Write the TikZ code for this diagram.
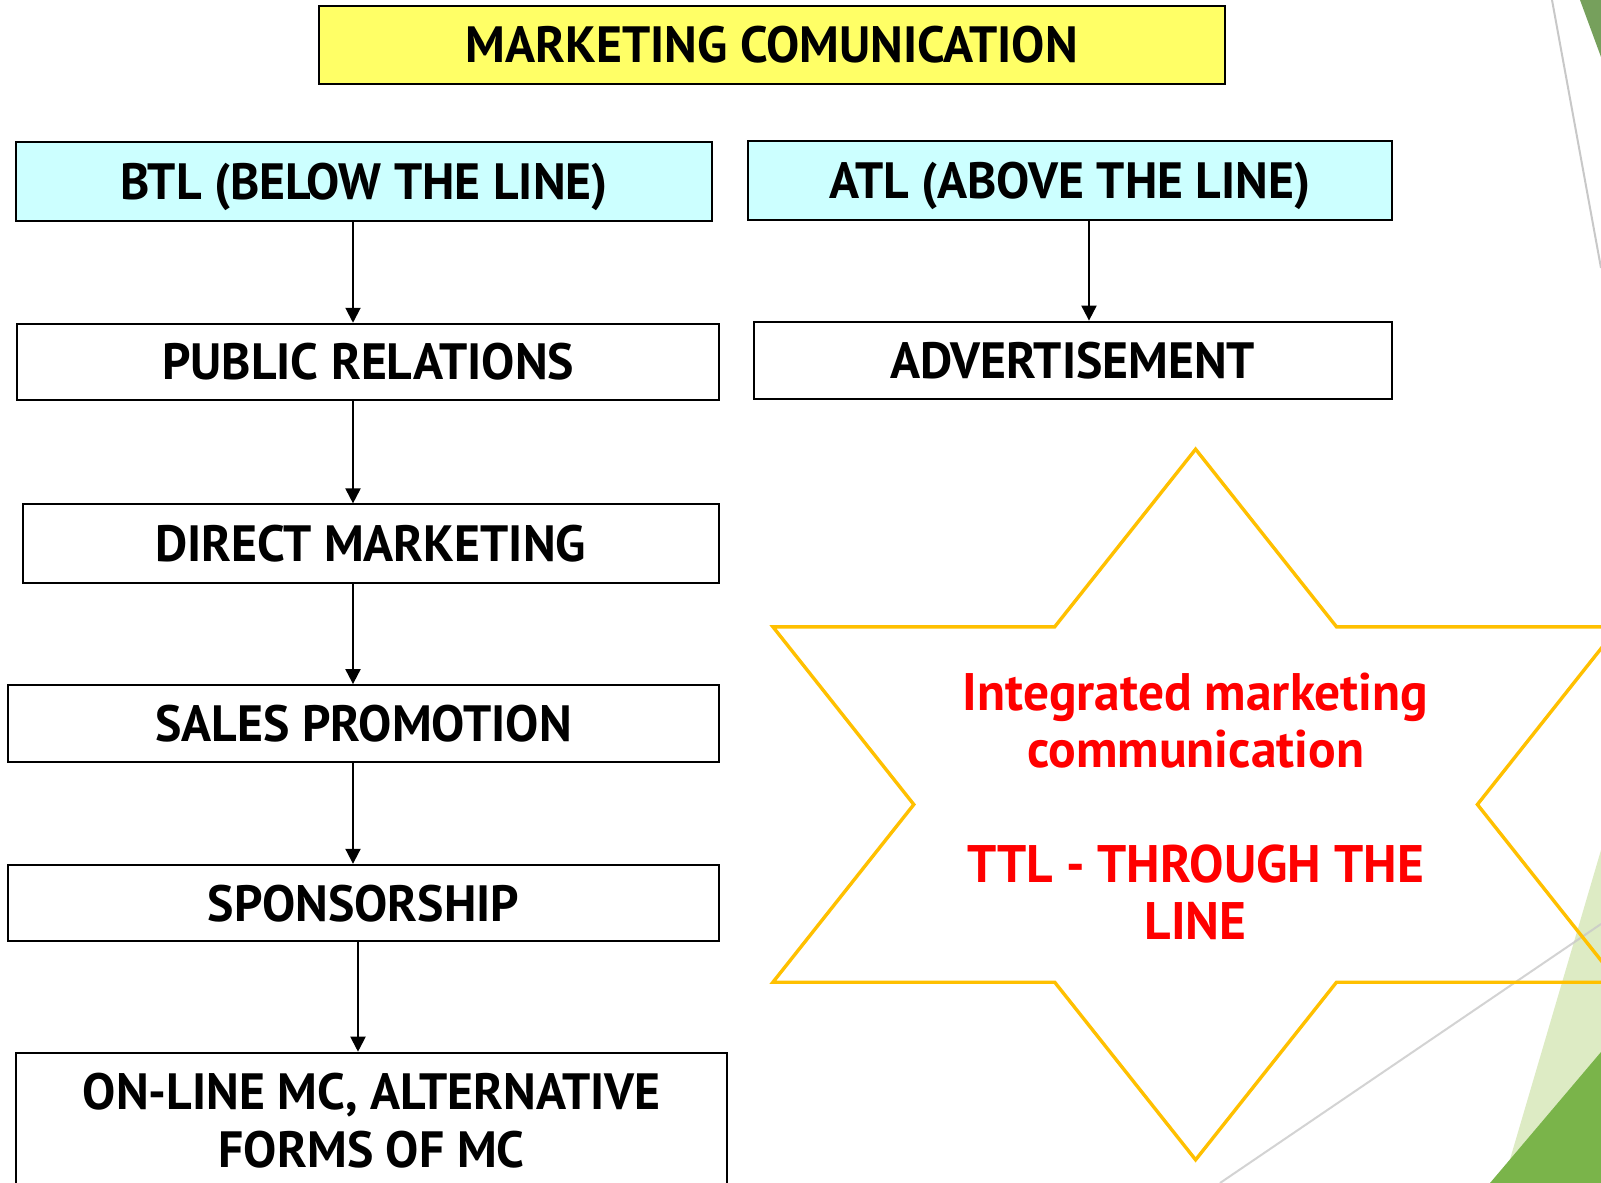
\documentclass[tikz,border=0pt]{standalone}
\usepackage{fontspec}
\setmainfont{PT Sans}[FakeStretch=0.975]
\usetikzlibrary{arrows.meta}

\definecolor{titlefill}{RGB}{255,255,102}
\definecolor{headfill}{RGB}{204,255,255}
\definecolor{stargold}{RGB}{255,192,0}
\definecolor{leafdark}{RGB}{122,180,74}
\definecolor{leaftop}{RGB}{118,160,92}
\definecolor{leaflight}{RGB}{221,235,196}
\definecolor{rulegray}{RGB}{200,200,200}

\begin{document}
\begin{tikzpicture}[x=0.5pt,y=-0.5pt,
  bx/.style n args={2}{draw=black, line width=1pt, inner sep=0pt,
    minimum width=#1*0.5pt, minimum height=#2*0.5pt,
    font=\fontsize{25.5pt}{29pt}\selectfont\bfseries, align=center},
  oneline/.style={text height=17.9pt, text depth=0pt},
  arr/.style={draw=black, line width=1pt, -{Triangle[width=7.5pt,length=7.5pt]}},
  redtxt/.style={text=red, align=center, inner sep=0pt,
    font=\fontsize{26.4pt}{28.5pt}\selectfont\bfseries}]

\path[use as bounding box, clip] (0,0) rectangle (1601,1183);

% slide decoration on the right edge
\fill[leaftop] (1580,0) -- (1601,0) -- (1601,57) -- cycle;
\draw[rulegray, line width=1pt] (1552,0) -- (1601,268);
\fill[leaflight] (1601,850) -- (1503,1183) -- (1601,1183) -- cycle;
\fill[leafdark] (1601,1052) -- (1601,1183) -- (1490,1183) -- cycle;
\draw[rulegray, line width=1pt, opacity=0.8] (1220,1183) -- (1601,924);

% header boxes
\node[bx={906.6}{77.6}, oneline, fill=titlefill] (title) at (771.9,44.9) {MARKETING COMUNICATION};
\node[bx={695.3}{78.6}, oneline, fill=headfill] (btl) at (364,181.2) {BTL (BELOW THE LINE)};
\node[bx={643.2}{78.6}, oneline, fill=headfill] (atl) at (1070,180.2) {ATL (ABOVE THE LINE)};

% BTL column
\node[bx={701.4}{76.5}, oneline] (pr) at (368.1,362) {PUBLIC RELATIONS};
\node[bx={696.3}{78.6}, oneline] (dm) at (370.7,543.7) {DIRECT MARKETING};
\node[bx={710.6}{76.6}, oneline] (sp) at (363.5,723.4) {SALES PROMOTION};
\node[bx={710.6}{76.6}, oneline] (spons) at (363.5,903.1) {SPONSORSHIP};
\node[bx={710.7}{135.8}] (online) at (371.7,1120.6) {ON-LINE MC, ALTERNATIVE\\FORMS OF MC};

% ATL column
\node[bx={638.1}{77.6}, oneline] (adv) at (1072.6,360.4) {ADVERTISEMENT};

% connector columns
\coordinate (colA) at (353,0);
\coordinate (colB) at (358,0);
\coordinate (colC) at (1089,0);

\draw[arr] (btl.south -| colA) -- (pr.north -| colA);
\draw[arr] (pr.south -| colA) -- (dm.north -| colA);
\draw[arr] (dm.south -| colA) -- (sp.north -| colA);
\draw[arr] (sp.south -| colA) -- (spons.north -| colA);
\draw[arr] (spons.south -| colB) -- (online.north -| colB);
\draw[arr] (atl.south -| colC) -- (adv.north -| colC);

% six-pointed star
\draw[stargold, line width=1.7pt, line join=miter]
  (1195.6,449.2) -- (1336.5,626.8) -- (1618.3,626.8) -- (1477.4,804.5)
  -- (1618.3,982.2) -- (1336.5,982.2) -- (1195.6,1159.8) -- (1054.7,982.2)
  -- (772.9,982.2) -- (913.8,804.5) -- (772.9,626.8) -- (1054.7,626.8) -- cycle;

\node[redtxt] (imc) at (1195.6,806) {Integrated marketing\\communication\\[29pt]TTL - THROUGH THE\\LINE};
\end{tikzpicture}
\end{document}
